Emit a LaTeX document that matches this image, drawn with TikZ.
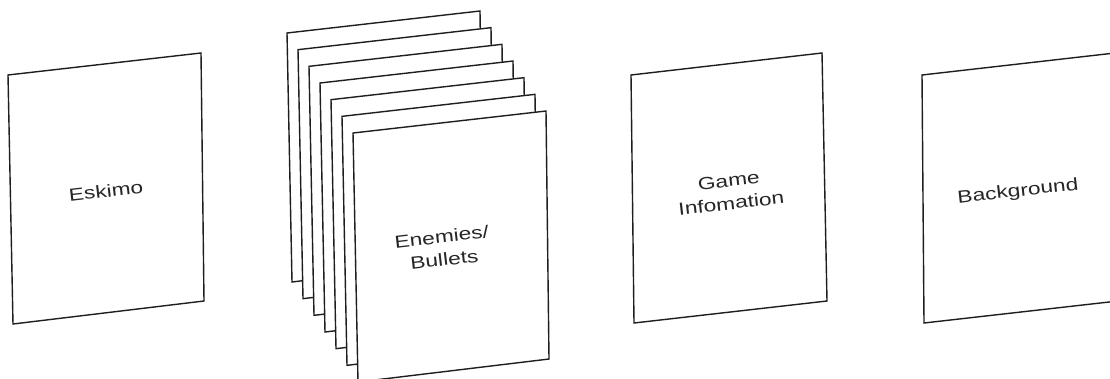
\documentclass[tikz,border=0pt]{standalone}
\usepackage{fontspec}
\newfontfamily\panelfont{Liberation Sans}[FakeStretch=1.3]
\usepackage{tikz}
\usetikzlibrary{positioning}
\definecolor{sheetline}{RGB}{30,30,30}

\begin{document}
\begin{tikzpicture}[
  x=1pt,y=-1pt,
  sheet/.style={draw=sheetline,line width=1.4pt,fill=white,line join=miter},
  lbl/.style={font=\panelfont\fontsize{17.5}{23}\selectfont,align=center,rotate=6.5,inner sep=0pt,text=black!85}
]
\useasboundingbox (0,0) rectangle (1110,379);
\clip (0,0) rectangle (1110,379);

% LEFT: single sheet
\draw[sheet] (8,75) -- ++(193,-22) -- ++(3,248) -- ++(-191,23) -- cycle;
\node[lbl] (eskimo) at (106,191) {Eskimo};

% STACK: seven sheets, back to front
\foreach \i in {0,...,6}{
  \draw[sheet] ({287+11*\i},{33+16.67*\i}) -- ++(193,-22) -- ++(3,248) -- ++(-191,23) -- cycle;
}
\node[lbl] (enemies) at (443,248) {Enemies/\\Bullets};

% RIGHT: two single sheets
\draw[sheet] (631,75) -- ++(191,-22) -- ++(5,248) -- ++(-193,22) -- cycle;
\node[lbl] (gameinfo) at (730,192) {Game\\Infomation};

\draw[sheet] (922,75) -- ++(193,-22) -- ++(3,248) -- ++(-194,22) -- cycle;
\node[lbl] (background) at (1018,192) {Background};
\end{tikzpicture}
\end{document}
